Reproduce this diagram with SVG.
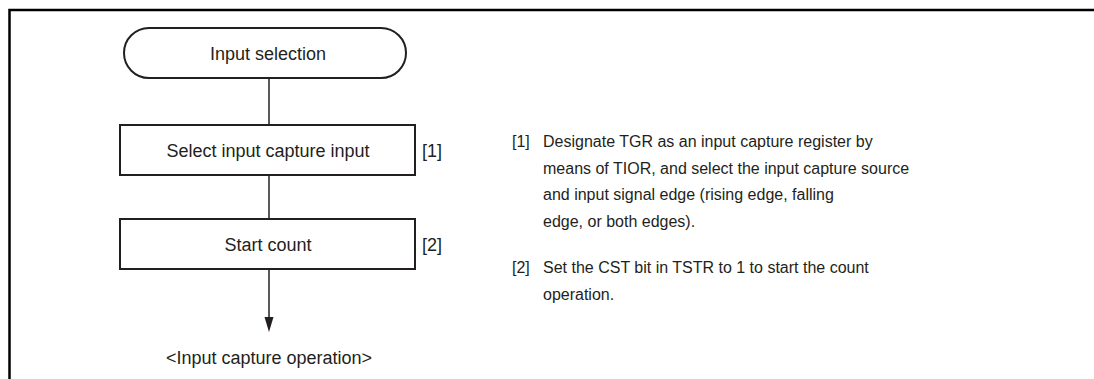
<svg xmlns="http://www.w3.org/2000/svg" width="1094" height="379" viewBox="0 0 1094 379">
<style>
text{font-family:"Liberation Sans",Arial,sans-serif;font-size:18px;fill:#231f20}
.c{text-anchor:middle}
.n{font-size:16px}
.box{fill:#fff;stroke:#231f20;stroke-width:2}
.ln{stroke:#231f20;stroke-width:1.5;fill:none}
</style>
<path d="M9.5,379 V10 H1094" fill="none" stroke="#000" stroke-width="2.5"/>
<g id="connectors">
<line class="ln" x1="269" y1="78" x2="269" y2="125"/>
<line class="ln" x1="269" y1="175" x2="269" y2="219"/>
<line class="ln" x1="269" y1="269" x2="269" y2="318"/>
<path d="M264.5,317 L273.5,317 L269,332 Z" fill="#231f20"/>
</g>
<g id="start">
<rect class="box" x="124" y="28" width="282" height="50" rx="25" ry="25"/>
<text class="c" x="268" y="59.5">Input selection</text>
</g>
<g id="step1">
<rect class="box" x="120" y="125" width="295" height="50"/>
<text class="c" x="268" y="157">Select input capture input</text>
<text x="422" y="157">[1]</text>
</g>
<g id="step2">
<rect class="box" x="120" y="219" width="295" height="50"/>
<text class="c" x="268" y="251">Start count</text>
<text x="422" y="251">[2]</text>
</g>
<g id="end">
<text class="c" x="269" y="363.5">&lt;Input capture operation&gt;</text>
</g>
<g id="notes" class="n">
<text class="n" x="512" y="147">[1]</text>
<text class="n" x="543" y="147">Designate TGR as an input capture register by</text>
<text class="n" x="543" y="173.5">means of TIOR, and select the input capture source</text>
<text class="n" x="543" y="200">and input signal edge (rising edge, falling</text>
<text class="n" x="543" y="227">edge, or both edges).</text>
<text class="n" x="512" y="273">[2]</text>
<text class="n" x="543" y="273">Set the CST bit in TSTR to 1 to start the count</text>
<text class="n" x="543" y="300">operation.</text>
</g>
</svg>
